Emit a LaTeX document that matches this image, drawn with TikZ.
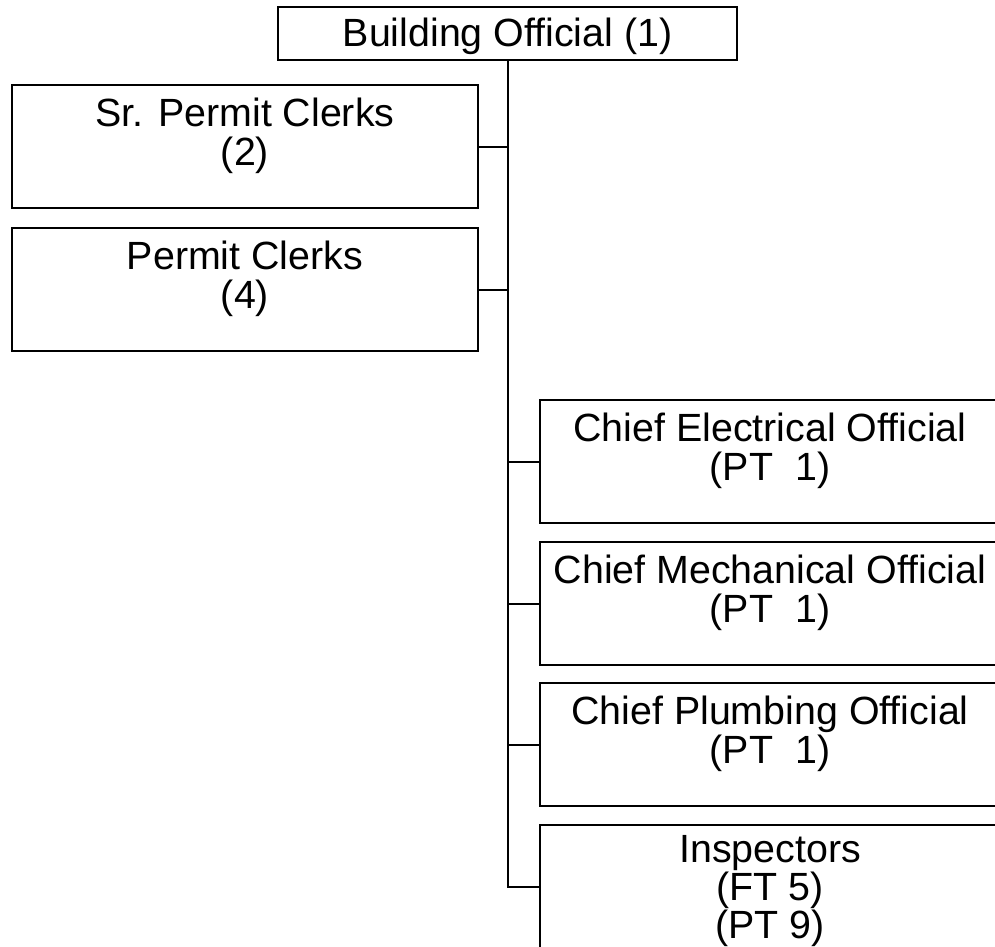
\documentclass[tikz,border=0pt]{standalone}
\usepackage{fontspec}
\setmainfont{Liberation Sans}
\begin{document}
\begin{tikzpicture}[every node/.style={font=\fontsize{28}{28}\selectfont}, line width=1.4pt, head style/.style={draw, rectangle, minimum width=11.48cm, minimum height=1.33cm, text height=0.78cm, text depth=0.12cm}, unit/.style={draw, rectangle, align=center, inner ysep=0pt, text height=2.01cm, text depth=1.07cm}, left unit/.style={unit, minimum width=11.65cm}, right unit/.style={unit, minimum width=11.5cm}]
	\useasboundingbox (0, 0) rectangle (24.875, -23.675);
	\clip (0, 0) rectangle (24.875, -23.675);
	\node[head style] (S1) at (12.69, -0.84) {Building Official (1)};
	\node[left unit] (S2) at (6.125, -3.665) {Sr. Permit Clerks\\(2)};
	\node[left unit] (S3) at (6.125, -7.24) {Permit Clerks\\(4)};
	\node[right unit] (S4) at (19.25, -11.54) {Chief Electrical Official\\(PT\ \ 1)};
	\node[right unit] (S5) at (19.25, -15.09) {Chief Mechanical Official\\(PT\ \ 1)};
	\node[right unit] (S6) at (19.25, -18.615) {Chief Plumbing Official\\(PT\ \ 1)};
	\node[right unit, font=\fontsize{28}{25.5}\selectfont, text height=2.83cm, text depth=0.25cm] (S7) at (19.25, -22.165) {Inspectors\\(FT 5)\\(PT 9)};
	\draw (S1.south) |- (S7.west);
	\foreach \x in {2,3}
	\draw (S\x.east) -- (S\x.east -| S1.south);
	\foreach \x in {4,...,6}
	\draw (S\x.west) -- (S\x.west -| S1.south);
\end{tikzpicture}
\end{document}
